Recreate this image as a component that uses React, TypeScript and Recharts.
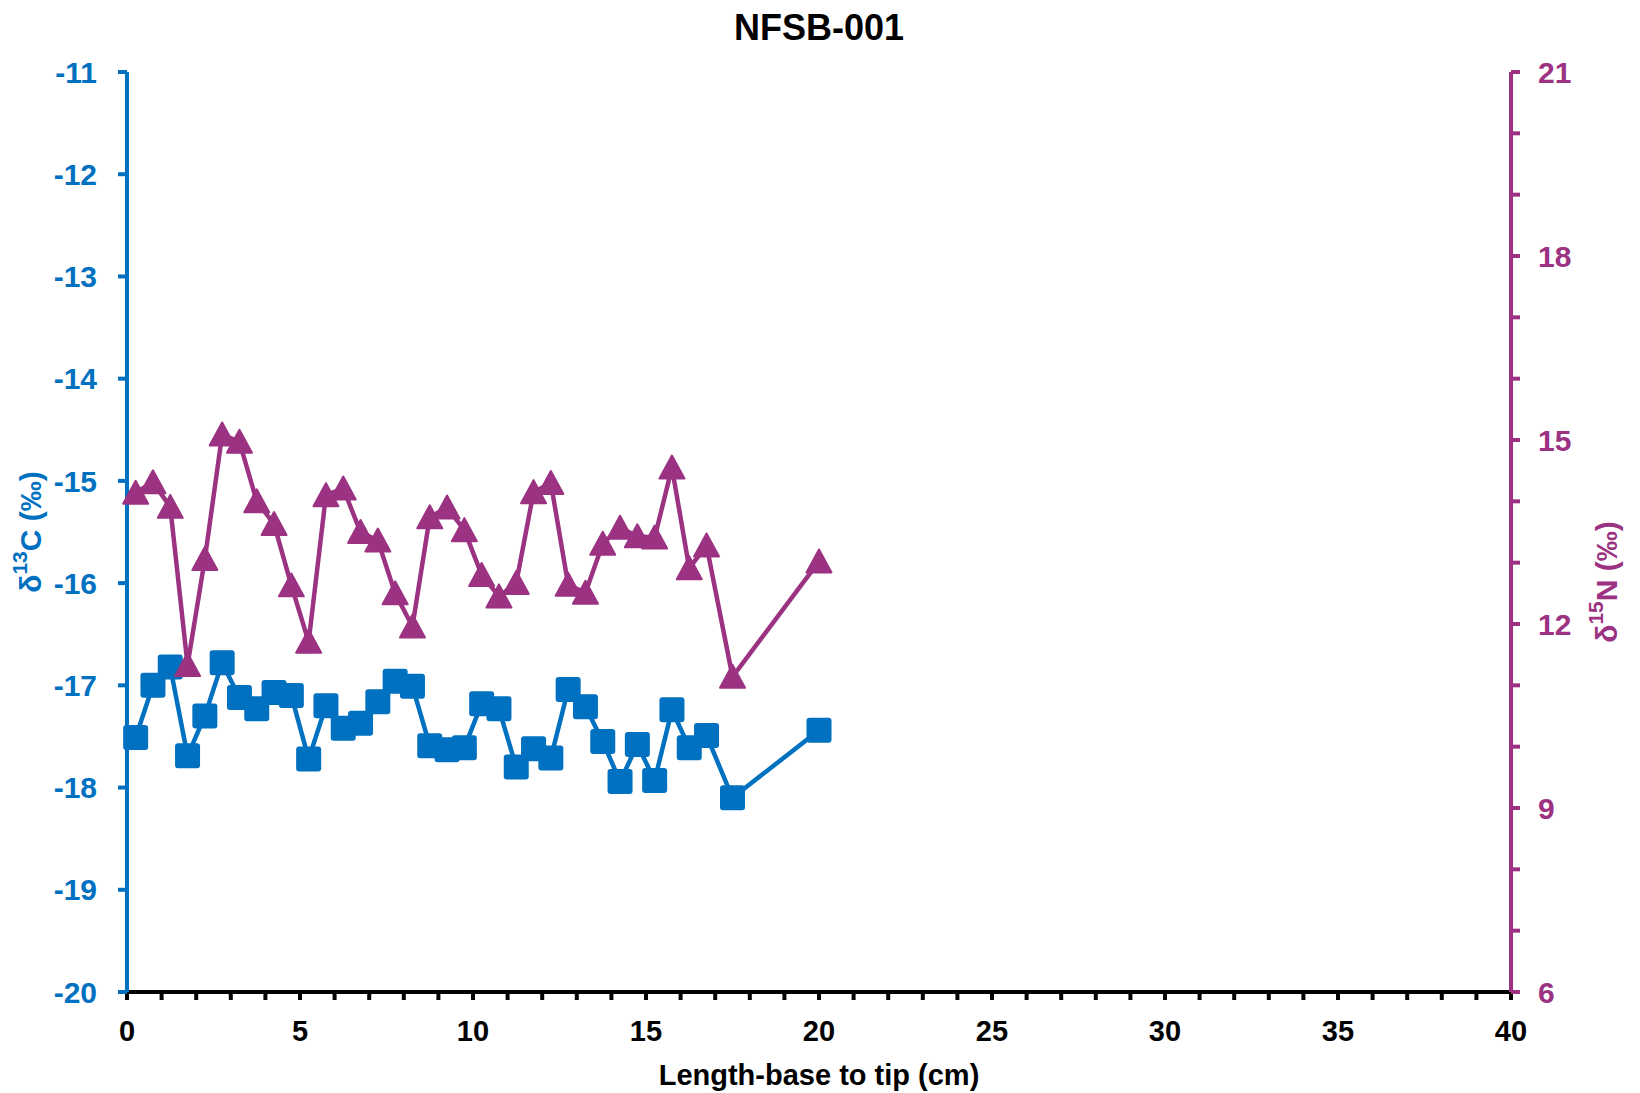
import React from 'react';
import { ComposedChart, Line, XAxis, YAxis } from 'recharts';

const BLUE = '#0070C0';
const PURPLE = '#9B3282';
const FONT = '"Liberation Sans", Arial, Helvetica, sans-serif';

// length from base (cm)
const LENGTH = [
  0.25, 0.75, 1.25, 1.75, 2.25, 2.75, 3.25, 3.75, 4.25, 4.75, 5.25, 5.75,
  6.25, 6.75, 7.25, 7.75, 8.25, 8.75, 9.25, 9.75, 10.25, 10.75, 11.25, 11.75,
  12.25, 12.75, 13.25, 13.75, 14.25, 14.75, 15.25, 15.75, 16.25, 16.75, 17.5, 20,
];

const D13C = [
  -17.51, -17.0, -16.82, -17.69, -17.3, -16.78, -17.12, -17.23, -17.07, -17.1, -17.72, -17.2,
  -17.42, -17.37, -17.16, -16.96, -17.01, -17.59, -17.63, -17.61, -17.18, -17.23, -17.8, -17.62,
  -17.71, -17.04, -17.21, -17.55, -17.94, -17.58, -17.93, -17.24, -17.61, -17.49, -18.1, -17.44,
];

const D15N = [
  14.14, 14.31, 13.91, 11.33, 13.06, 15.09, 14.97, 14.0, 13.63, 12.63, 11.71, 14.1,
  14.21, 13.5, 13.36, 12.5, 11.96, 13.74, 13.9, 13.53, 12.8, 12.45, 12.67, 14.15,
  14.3, 12.64, 12.51, 13.31, 13.57, 13.43, 13.41, 14.55, 12.91, 13.28, 11.14, 13.02,
];

const X_TICKS = [
  0, 1, 2, 3, 4, 5, 6, 7, 8, 9, 10, 11, 12, 13, 14, 15, 16, 17, 18, 19, 20,
  21, 22, 23, 24, 25, 26, 27, 28, 29, 30, 31, 32, 33, 34, 35, 36, 37, 38, 39, 40,
];
const C_TICKS = [-20, -19, -18, -17, -16, -15, -14, -13, -12, -11];
const N_TICKS = [6, 7, 8, 9, 10, 11, 12, 13, 14, 15, 16, 17, 18, 19, 20, 21];

const data = LENGTH.map((x, i) => ({ x, c: D13C[i], n: D15N[i] }));

const Square = (props: any) => {
  const { cx, cy, index } = props;
  if (cx == null || cy == null) return <g key={index} />;
  return <rect key={index} x={cx - 12.5} y={cy - 12.5} width={25} height={25} rx={3} fill={BLUE} />;
};

const Triangle = (props: any) => {
  const { cx, cy, index } = props;
  if (cx == null || cy == null) return <g key={index} />;
  return (
    <path
      key={index}
      d={`M${cx},${cy - 12} L${cx + 12.5},${cy + 11} L${cx - 12.5},${cy + 11} Z`}
      fill={PURPLE}
      stroke={PURPLE}
      strokeWidth={2}
      strokeLinejoin="round"
    />
  );
};

const XTick = (props: any) => {
  const { x, y, payload } = props;
  if (payload.value % 5 !== 0) return <g />;
  return (
    <text x={x} y={y} dy="0.71em" textAnchor="middle" fontFamily={FONT} fontWeight="bold" fontSize={29} fill="#000">
      {payload.value}
    </text>
  );
};

const CTick = (props: any) => {
  const { x, y, payload } = props;
  return (
    <text x={x} y={y} dy="0.355em" textAnchor="end" fontFamily={FONT} fontWeight="bold" fontSize={30} fill={BLUE}>
      {payload.value}
    </text>
  );
};

const NTick = (props: any) => {
  const { x, y, payload } = props;
  if ((payload.value - 6) % 3 !== 0) return <g />;
  return (
    <text x={x} y={y} dy="0.355em" textAnchor="start" fontFamily={FONT} fontWeight="bold" fontSize={30} fill={PURPLE}>
      {payload.value}
    </text>
  );
};

const IsoTitle = (props: any) => {
  const { viewBox, sup, element, color, offsetX, offsetY } = props;
  const cx = viewBox.x + offsetX;
  const cy = viewBox.y + viewBox.height / 2 + offsetY;
  return (
    <text
      x={cx}
      y={cy}
      transform={`rotate(-90 ${cx} ${cy})`}
      textAnchor="middle"
      dominantBaseline="central"
      fontFamily={FONT}
      fontWeight="bold"
      fontSize={30}
      fill={color}
    >
      δ<tspan dy={-11} fontSize={21}>{sup}</tspan>
      <tspan dy={11}>{element} (‰)</tspan>
    </text>
  );
};

const XTitle = (props: any) => {
  const { viewBox } = props;
  return (
    <text
      x={viewBox.x + viewBox.width / 2}
      y={viewBox.y + 93}
      textAnchor="middle"
      fontFamily={FONT}
      fontWeight="bold"
      fontSize={29}
      fill="#000"
    >
      Length-base to tip (cm)
    </text>
  );
};

export default function App() {
  return (
    <div style={{ position: 'absolute', left: 0, top: 0, width: 1640, height: 1093, background: '#fff' }}>
      <div
        style={{
          position: 'absolute',
          left: 127,
          top: 10,
          width: 1384,
          textAlign: 'center',
          fontFamily: FONT,
          fontWeight: 'bold',
          fontSize: 36,
          lineHeight: '36px',
          color: '#000',
        }}
      >
        NFSB-001
      </div>
      <ComposedChart width={1640} height={1093} data={data} margin={{ top: 72, right: 0, bottom: 0, left: 0 }}>
        <XAxis
          dataKey="x"
          type="number"
          domain={[0, 40]}
          ticks={X_TICKS}
          interval={0}
          height={101}
          axisLine={{ stroke: '#000', strokeWidth: 4 }}
          tickLine={{ stroke: '#000', strokeWidth: 4 }}
          tickSize={8}
          tickMargin={20}
          tick={<XTick />}
          label={<XTitle />}
        />
        <YAxis
          yAxisId="c"
          orientation="left"
          type="number"
          domain={[-20, -11]}
          ticks={C_TICKS}
          interval={0}
          width={127}
          axisLine={{ stroke: BLUE, strokeWidth: 4 }}
          tickLine={{ stroke: BLUE, strokeWidth: 4 }}
          tickSize={9}
          tickMargin={21}
          tick={<CTick />}
          label={<IsoTitle sup="13" element="C" color={BLUE} offsetX={30} offsetY={0} />}
        />
        <YAxis
          yAxisId="n"
          orientation="right"
          type="number"
          domain={[6, 21]}
          ticks={N_TICKS}
          interval={0}
          width={129}
          axisLine={{ stroke: PURPLE, strokeWidth: 4 }}
          tickLine={{ stroke: PURPLE, strokeWidth: 4 }}
          tickSize={9}
          tickMargin={18}
          tick={<NTick />}
          label={<IsoTitle sup="15" element="N" color={PURPLE} offsetX={95} offsetY={50} />}
        />
        <Line
          yAxisId="c"
          dataKey="c"
          type="linear"
          stroke={BLUE}
          strokeWidth={4.5}
          dot={Square}
          activeDot={false}
          isAnimationActive={false}
        />
        <Line
          yAxisId="n"
          dataKey="n"
          type="linear"
          stroke={PURPLE}
          strokeWidth={4.5}
          dot={Triangle}
          activeDot={false}
          isAnimationActive={false}
        />
      </ComposedChart>
    </div>
  );
}
